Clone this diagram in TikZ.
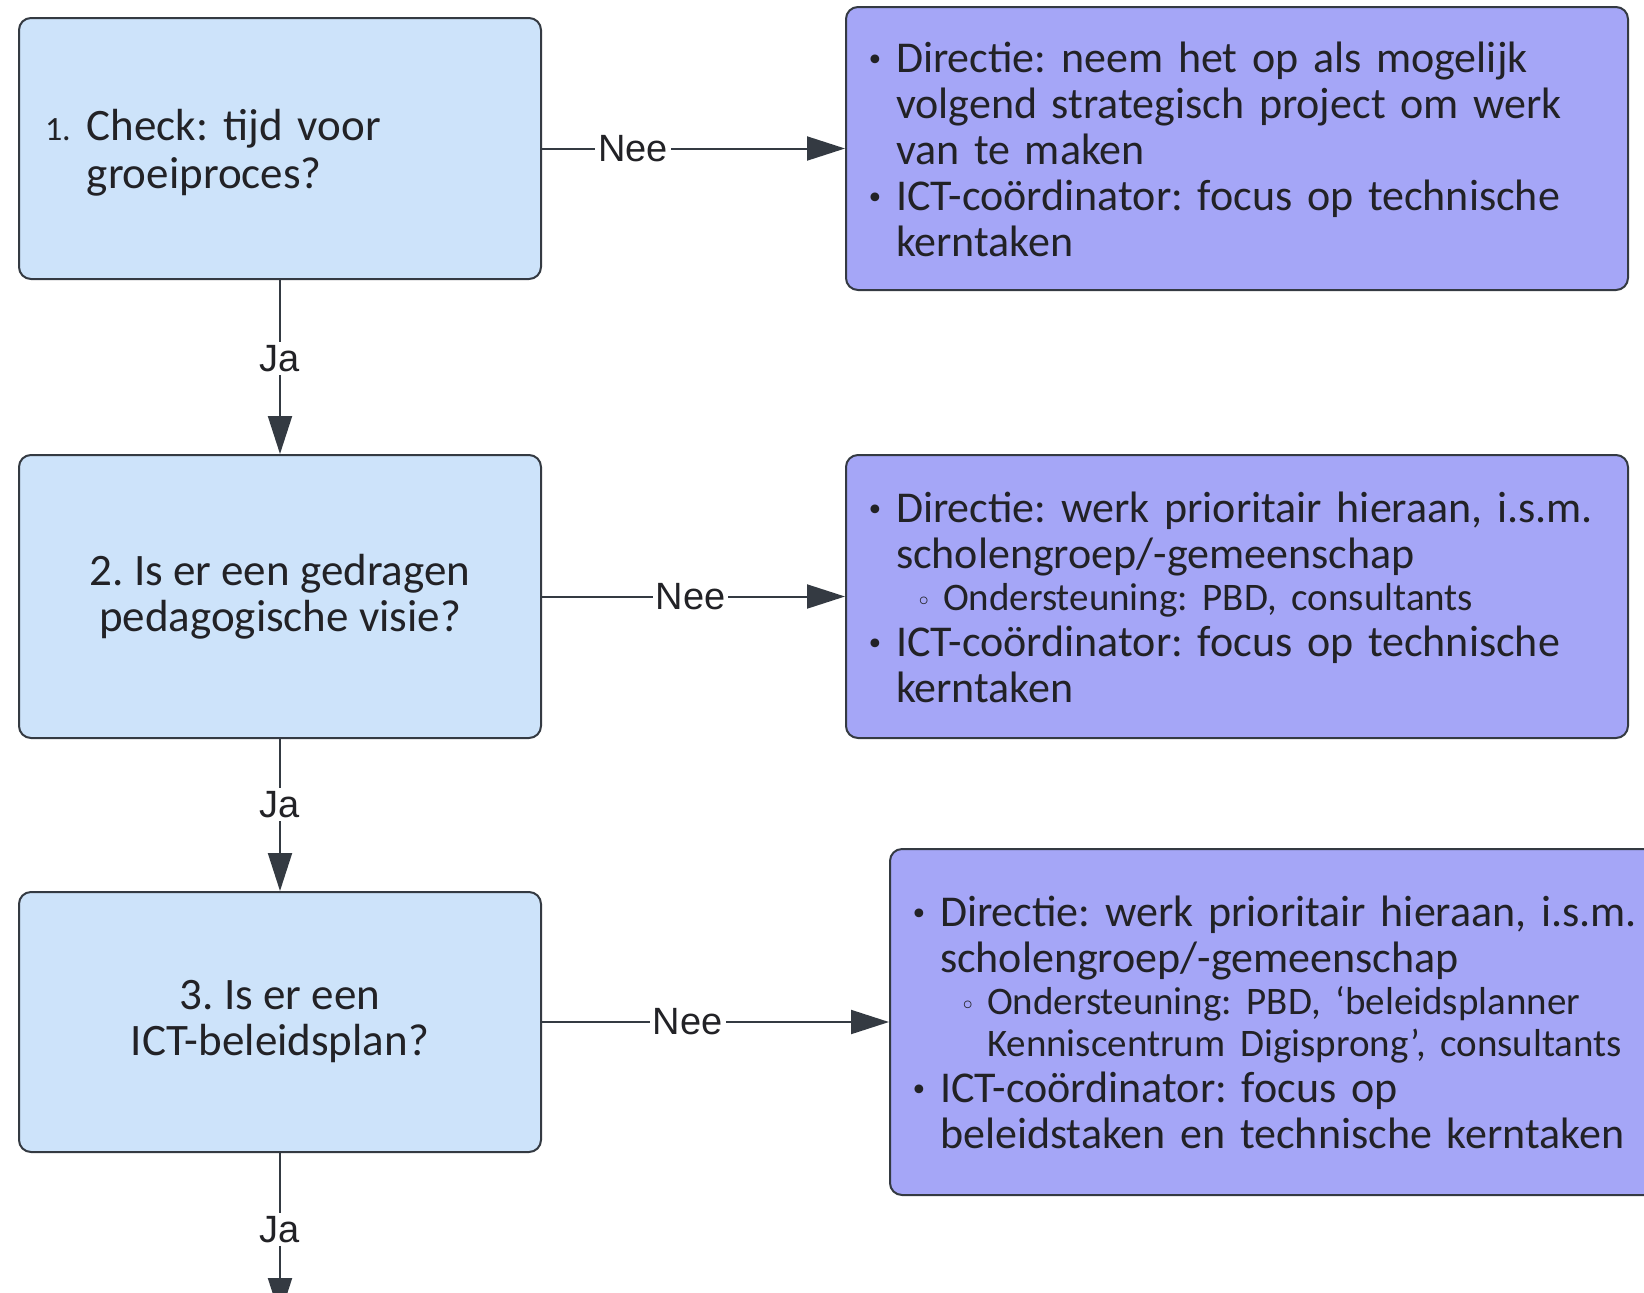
\documentclass[tikz,border=0pt]{standalone}
\usepackage{fontspec}
\setmainfont{Carlito}
\newfontfamily\labelfont{Liberation Sans}
\newfontfamily\dejavu{DejaVu Sans}
\usetikzlibrary{arrows.meta, positioning}
\definecolor{qblue}{RGB}{205, 227, 250}
\definecolor{actpurple}{RGB}{165, 166, 247}
\definecolor{rim}{RGB}{52, 58, 66}
\definecolor{ink}{RGB}{34, 34, 38}
\frenchspacing
\newcommand{\bulletitem}[1]{\par\noindent\hangindent=20pt\hangafter=1\hspace*{5pt}\makebox[15pt][l]{\dejavu\fontsize{15}{23}\selectfont\raisebox{1pt}{•}}#1\par}
\newcommand{\circitem}[1]{{\fontsize{19.5}{21}\selectfont\par\noindent\hangindent=43.5pt\hangafter=1\hspace*{30pt}\makebox[13.5pt][l]{\dejavu\fontsize{13}{21}\selectfont ◦}#1\par}}
\tikzset{
    question/.style = {rectangle, rounded corners=6pt, draw=rim, line width=1pt, fill=qblue, text=ink, minimum width=261pt, font=\fontsize{22.5}{23}\selectfont},
    action/.style = {rectangle, rounded corners=6pt, draw=rim, line width=1pt, fill=actpurple, text=ink, text width=381pt, inner xsep=5pt, align=left, minimum height=141.5pt, font=\fontsize{22}{23}\selectfont, execute at end node={\vspace{7pt}}},
    flow/.style = {draw=rim, line width=1pt, -{Triangle[length=19pt, width=12pt]}},
    answer/.style = {font=\labelfont\fontsize{19}{21}\selectfont, text=ink, fill=white, inner sep=1.5pt}
}

\begin{document}
\begin{tikzpicture}[node distance=87pt and 151.5pt]
  \useasboundingbox (0pt,0pt) rectangle (822pt,-646pt);

  % vragen
  \node[question, minimum height=130.5pt, text width=235pt, inner xsep=13pt, align=left] (q1) at (140pt,-74.25pt)
    {\begin{tabular}{@{}l@{\hspace{8pt}}l@{}}{\fontsize{17}{23}\selectfont 1.} & Check: tijd voor\\[1pt] & groeiproces?\end{tabular}\par\vspace{-7pt}};
  \node[question, minimum height=141.5pt, align=center, below=of q1] (q2)
    {2. Is er een gedragen\\pedagogische visie?};
  \node[question, minimum height=130pt, align=center, below=76pt of q2] (q3)
    {3. Is er een\\ICT-beleidsplan?};

  % acties
  \node[action, right=of q1] (a1) {%
    \bulletitem{Directie: neem het op als mogelijk\newline volgend strategisch project om werk\newline van te maken}
    \bulletitem{ICT-coördinator: focus op technische\newline kerntaken}};
  \node[action, right=of q2] (a2) {%
    \bulletitem{Directie: werk prioritair hieraan, i.s.m.\newline scholengroep/-gemeenschap}
    \circitem{Ondersteuning: PBD, consultants}
    \bulletitem{ICT-coördinator: focus op technische\newline kerntaken}};
  \node[action, minimum height=173pt, right=173.5pt of q3] (a3) {%
    \bulletitem{Directie: werk prioritair hieraan, i.s.m.\newline scholengroep/-gemeenschap}
    \circitem{Ondersteuning: PBD, ‘beleidsplanner\newline Kenniscentrum Digisprong’, consultants}
    \bulletitem{ICT-coördinator: focus op\newline beleidstaken en technische kerntaken}};

  \coordinate[below=81.5pt of q3.south] (next);

  % verbindingen
  \draw[flow] (q1) -- node[answer, pos=0.3] {Nee} (a1);
  \draw[flow] (q2) -- node[answer, pos=0.49] {Nee} (a2);
  \draw[flow] (q3) -- node[answer, pos=0.42] {Nee} (a3);
  \draw[flow] (q1) -- node[answer, pos=0.45] {Ja} (q2);
  \draw[flow] (q2) -- node[answer, pos=0.43] {Ja} (q3);
  \draw[flow] (q3) -- node[answer, pos=0.47] {Ja} (next);
\end{tikzpicture}
\end{document}
